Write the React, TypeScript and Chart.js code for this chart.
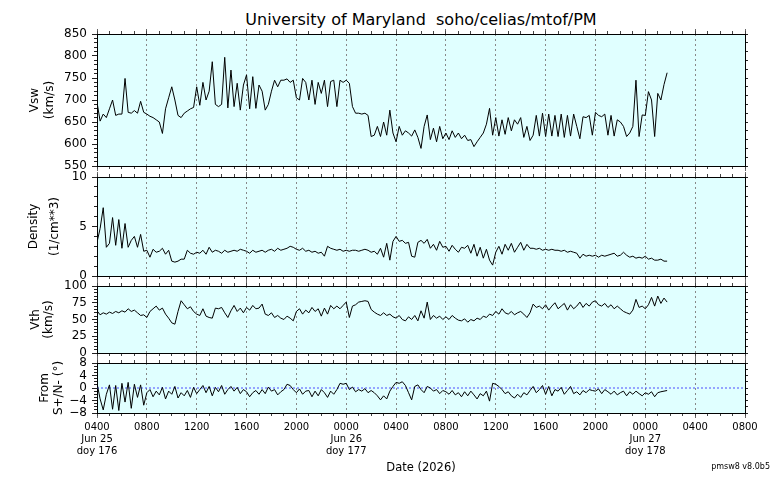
import { useEffect, useRef } from 'react';
import { Chart, registerables } from 'chart.js';

Chart.register(...registerables);

const FONT = '"DejaVu Sans", sans-serif';

// ---- time axis (hours after Jun 25 04:00) ----
const START_HOUR = 4;
const STEP_H = 0.25;
const X_MAX = 52;
const DATE_TICK_POS = [0, 20, 44];
const DATE_TICK_LINES = [
  ['Jun 25', 'doy 176'],
  ['Jun 26', 'doy 177'],
  ['Jun 27', 'doy 178'],
];

// ---- series (15 minute samples from Jun 25 04:00) ----
const VSW = [
  695, 652, 668, 660, 680, 700, 665, 668, 668, 749, 672, 670, 676, 670, 697, 672,
  668, 663, 660, 655, 650, 624, 680, 705, 730, 700, 665, 660, 670, 675, 680, 683,
  730, 688, 740, 700, 720, 787, 690, 685, 690, 797, 682, 768, 685, 738, 677, 734,
  757, 680, 753, 681, 734, 720, 677, 690, 720, 745, 730, 745, 745, 748, 740, 745,
  705, 700, 749, 740, 700, 745, 690, 740, 715, 745, 685, 742, 745, 685, 745, 740,
  745, 738, 685, 670, 670, 668, 670, 665, 617, 620, 640, 617, 650, 620, 677, 625,
  605, 640, 620, 630, 625, 618, 632, 615, 590, 640, 666, 610, 636, 605, 640, 612,
  625, 610, 630, 615, 625, 612, 620, 608, 610, 594, 605, 615, 625, 645, 681, 620,
  660, 618, 655, 622, 660, 630, 655, 645, 660, 615, 640, 608, 620, 665, 618, 670,
  617, 668, 618, 665, 617, 668, 615, 665, 618, 668, 640, 612, 662, 660, 665, 620,
  672, 665, 662, 668, 620, 665, 618, 655, 650, 640, 617, 625, 640, 745, 617, 666,
  665, 719, 700, 617, 715, 700, 735, 762,
];

const DENSITY = [
  3.4, 4.8, 6.9, 2.9, 3.3, 5.9, 3.1, 5.7, 2.8, 5.3, 2.9, 3.6, 4.0, 2.9, 4.2, 2.5,
  2.6, 1.9, 2.7, 2.4, 2.5, 2.8, 2.2, 2.6, 1.5, 1.4, 1.5, 1.7, 1.7, 2.6, 2.3, 2.2,
  2.4, 2.3, 2.6, 2.2, 2.9, 2.4, 2.6, 2.5, 2.3, 2.6, 2.4, 2.5, 2.6, 2.5, 2.7, 2.6,
  2.5, 2.3, 2.6, 2.4, 2.5, 2.6, 2.4, 2.6, 2.7, 2.5, 2.8, 2.6, 2.7, 2.8, 3.0, 2.9,
  2.7, 2.6, 2.8, 2.5, 2.6, 2.4, 2.5, 2.3, 2.4, 2.0, 3.0, 2.8, 2.7, 2.6, 2.7, 2.5,
  2.6, 2.5, 2.6, 2.6, 2.5, 2.6, 2.7, 2.6, 2.4, 2.5, 2.2, 2.8, 1.9, 3.3, 1.6, 3.5,
  4.0, 3.5, 3.6, 3.3, 3.4, 2.0, 1.9, 3.4, 3.6, 3.3, 3.7, 2.8, 3.2, 2.6, 3.5, 2.9,
  3.0, 2.5, 3.1, 2.7, 2.4, 2.9, 2.8, 3.1, 2.3, 3.2, 2.0, 2.9, 1.8, 2.7, 1.6, 1.1,
  2.4, 3.0, 2.2, 3.2, 2.6, 3.3, 2.4, 2.9, 3.4, 2.6, 3.2, 2.8, 2.8, 2.7, 2.8, 2.6,
  2.7, 2.6, 2.7, 2.6, 2.6, 2.5, 2.6, 2.4, 2.5, 2.4, 2.3, 1.8, 2.2, 2.0, 2.1, 2.0,
  2.1, 1.9, 2.1, 2.0, 2.1, 2.2, 2.3, 2.0, 2.1, 2.4, 2.1, 1.9, 2.0, 1.8, 1.9, 1.8,
  2.0, 1.7, 1.8, 1.6, 1.6, 1.7, 1.5, 1.5,
];

const VTH = [
  63, 57, 60, 58, 61, 59, 62, 60, 63, 61, 66, 62, 64, 60, 56, 57,
  53, 62, 66, 70, 64, 67, 58, 52, 45, 43, 62, 78, 72, 66, 69, 62,
  58, 56, 66, 55, 53, 52, 67, 66, 68, 60, 53, 63, 71, 62, 67, 60,
  68, 64, 71, 66, 67, 73, 58, 56, 60, 53, 56, 52, 50, 55, 52, 48,
  62, 66, 58, 64, 60, 68, 62, 66, 55, 67, 58, 71, 66, 70, 66, 71,
  76, 53, 70, 72, 76, 77, 78, 77, 65, 61, 58, 56, 60, 56, 58, 54,
  52, 56, 50, 48, 54, 50, 56, 48, 63, 52, 76, 50, 56, 52, 55, 50,
  54, 50, 56, 52, 49, 48, 51, 46, 50, 48, 52, 50, 55, 53, 58, 56,
  62, 58, 66, 60, 58, 62, 57, 60, 62, 58, 53, 60, 73, 68, 70, 66,
  72, 64, 70, 75, 66, 70, 74, 64, 72, 66, 70, 76, 68, 74, 70, 76,
  78, 72, 70, 74, 68, 72, 66, 70, 66, 62, 60, 58, 64, 80, 68, 70,
  66, 72, 83, 70, 85, 74, 82, 76,
];

const FROM_SN = [
  1.5, -3.5, -7.0, -2.0, 1.0, -6.8, 0.8, -7.2, 1.5, -4.5, 1.8, -6.5, 1.2, -3.0, 1.0, -5.5,
  -1.5, -0.5, -2.8, -1.0, -2.2, 0.2, -3.5, -1.0, -2.0, 0.5, -3.2, -1.5, -2.5, -0.8, -3.0, 0.2,
  -1.8, -0.5, 0.8, -1.5, 0.5, -2.5, 0.2, -1.2, 0.8, -2.0, -0.5, 0.5, -1.0, 0.2, -1.8, -0.5,
  -1.2, -2.8, -1.5, -0.8, -2.0, -0.5, -1.8, 0.3, -1.0, -0.5, -2.2, -1.2, -0.5, 1.2, 0.8, -0.5,
  -1.5, -0.3, -2.0, -1.0, -0.8, -2.8, -1.0, -2.5, -0.5, -1.5, -3.0, -1.0, -2.0, -0.5, 1.5, 1.2,
  1.5, -0.5, 0.3, -1.2, -0.5, -1.0, -0.2, -1.5, -0.8, -1.5, -2.5, -3.8, -2.5, -3.5, -1.0, 0.5,
  1.8, 1.5, 2.0, 0.8, -1.5, -3.8, 0.5, 1.0, -0.5, -1.5, 0.5, 0.0, -1.0, -0.5, -1.8, -0.8,
  -1.2, -2.0, -0.8, -2.2, -1.5, -2.8, -1.2, -2.5, -1.0, -2.2, -3.5, -1.8, -2.5, -1.0, -4.2, 1.5,
  1.2, 0.5, -0.5, -1.8, -1.2, -2.5, -3.2, -2.0, -3.0, -1.5, -2.2, -0.8, 0.5, -1.5, -0.5, 0.8,
  -2.0, 0.5, -2.5, -0.5, -1.0, 0.2, -2.0, -0.8, 0.5, -1.8, -1.2, -2.2, -0.8, -1.5, -0.5, -0.8,
  -1.0, -0.3, -1.8, -0.5, -1.2, -2.0, -1.0, -2.2, -1.5, -1.0, -2.5, -1.2, -2.0, -1.0, -1.8, -2.5,
  -1.5, -2.0, -1.2, -2.8, -1.5, -1.2, -1.0, -0.8,
];

const ZERO_LINE = [0, 0];

// ---- panel layout (page pixels) ----
type Panel = {
  key: string;
  top: number;
  bottom: number;
  data: number[];
  min: number;
  max: number;
  major: number;
  minor: number;
  rightStep: number;
  title: string[];
  titlePad: number;
  titleLH: number;
  last: boolean;
  zero: boolean;
};

const PANELS: Panel[] = [
  { key: 'vsw', top: 34, bottom: 166, data: VSW, min: 550, max: 850, major: 50, minor: 10, rightStep: 20,
    title: ['Vsw', '(km/s)'], titlePad: 27.5, titleLH: 1.25, last: false, zero: false },
  { key: 'den', top: 177, bottom: 276, data: DENSITY, min: 0, max: 10, major: 5, minor: 1, rightStep: 1,
    title: ['Density', '(1/cm**3)'], titlePad: 23.5, titleLH: 1.75, last: false, zero: false },
  { key: 'vth', top: 286, bottom: 353, data: VTH, min: 0, max: 100, major: 25, minor: 5, rightStep: 10,
    title: ['Vth', '(km/s)'], titlePad: 28.5, titleLH: 1.15, last: false, zero: false },
  { key: 'ang', top: 363, bottom: 413, data: FROM_SN, min: -8, max: 8, major: 4, minor: 1, rightStep: 2,
    title: ['From', 'S+/N- (°)'], titlePad: 37.5, titleLH: 1.2, last: true, zero: true },
];

const PAD_TOP = 6;
const CANVAS_W = 776;
const PLOT_LEFT = 97;
const PLOT_RIGHT = 745;
const PAGE_H = 480;

const canvasTop = (p: Panel) => p.top - PAD_TOP;
const canvasH = (p: Panel) => (p.last ? PAGE_H - canvasTop(p) : p.bottom - p.top + 2 * PAD_TOP);
const bottomH = (p: Panel) => (p.last ? PAGE_H - p.bottom : PAD_TOP);

const xLabel = (v: any) => {
  const val = Number(v);
  const hh = (START_HOUR + val) % 24;
  const s = String(hh).padStart(2, '0') + '00';
  const idx = DATE_TICK_POS.indexOf(val);
  return idx >= 0 ? [s, ...DATE_TICK_LINES[idx]] : s;
};

const yLabel = (v: any) => {
  const n = Number(v);
  return n < 0 ? '\u2212' + Math.abs(n) : String(n);
};

const bgPlugin = {
  id: 'plotBg',
  beforeDraw(chart: any) {
    const { ctx, chartArea } = chart;
    if (!chartArea) return;
    ctx.save();
    ctx.fillStyle = '#e0ffff';
    ctx.fillRect(chartArea.left, chartArea.top, chartArea.right - chartArea.left, chartArea.bottom - chartArea.top);
    ctx.restore();
  },
};

const zeroPad = (s: any) => {
  s.paddingTop = 0;
  s.paddingBottom = 0;
  s.paddingLeft = 0;
  s.paddingRight = 0;
};

function makeChart(canvas: HTMLCanvasElement, p: Panel) {
  const datasets: any[] = [
    {
      data: p.data.map((v, i) => ({ x: i * STEP_H, y: v })),
      borderColor: '#000',
      borderWidth: 1,
      pointRadius: 0,
      tension: 0,
      xAxisID: 'x',
      yAxisID: 'y',
      order: 1,
    },
  ];
  if (p.zero) {
    datasets.push({
      data: ZERO_LINE.map((v, i) => ({ x: i * X_MAX, y: v })),
      borderColor: '#4d4dff',
      borderWidth: 1,
      borderDash: [2, 2],
      pointRadius: 0,
      xAxisID: 'x',
      yAxisID: 'y',
      order: 2,
    });
  }

  const hAxis = (position: string, weight: number, step: number, tl: number, h: number, extra: any = {}) => ({
    type: 'linear',
    position,
    min: 0,
    max: X_MAX,
    weight,
    afterFit: (s: any) => { s.height = h; zeroPad(s); },
    ticks: { stepSize: step, autoSkip: false, display: false, maxRotation: 0 },
    grid: { display: true, drawOnChartArea: false, drawTicks: true, tickLength: tl, tickColor: '#444', tickWidth: 1, color: 'rgba(0,0,0,0)' },
    border: { display: false },
    ...extra,
  });

  const vAxis = (position: string, weight: number, step: number, tl: number, w: number, extra: any = {}) => ({
    type: 'linear',
    position,
    min: p.min,
    max: p.max,
    weight,
    afterFit: (s: any) => { s.width = w; zeroPad(s); },
    ticks: { stepSize: step, autoSkip: false, display: false },
    grid: { display: true, drawOnChartArea: false, drawTicks: true, tickLength: tl, tickColor: '#222', tickWidth: 1, color: 'rgba(0,0,0,0)' },
    border: { display: false },
    ...extra,
  });

  const scales: any = {
    x: hAxis('bottom', 1, 4, 5, bottomH(p), {
      ticks: {
        stepSize: 4,
        autoSkip: false,
        maxRotation: 0,
        display: p.last,
        padding: 3,
        color: '#000',
        font: { family: FONT, size: 10, lineHeight: 1.2 },
        callback: xLabel,
      },
      grid: {
        display: true,
        drawOnChartArea: true,
        drawTicks: true,
        tickLength: 5,
        tickColor: '#666',
        tickWidth: 1,
        tickBorderDash: [],
        lineWidth: 1,
        color: (c: any) => (c.tick && (c.tick.value === 0 || c.tick.value === X_MAX) ? 'rgba(0,0,0,0)' : '#888'),
      },
      border: { display: false, dash: [2, 3] },
      title: p.last
        ? { display: true, text: 'Date (2026)', color: '#000', font: { family: FONT, size: 11.5, lineHeight: 1.2 }, padding: { top: 0, bottom: 4.6 } }
        : { display: false },
    }),
    xm: hAxis('bottom', 0, 1, 3, 0, { border: { display: true, color: '#000', width: 1 } }),
    xt: hAxis('top', 1, 4, 5, PAD_TOP, {
      grid: { display: true, drawOnChartArea: false, drawTicks: true, tickLength: 5, tickColor: '#666', tickWidth: 1, color: 'rgba(0,0,0,0)' },
    }),
    xtm: hAxis('top', 0, 1, 3, 0, { border: { display: true, color: '#000', width: 1 } }),
    y: vAxis('left', 1, p.major, 5, PLOT_LEFT, {
      ticks: { stepSize: p.major, autoSkip: false, display: true, padding: 5, color: '#000', font: { family: FONT, size: 12 }, callback: yLabel },
      title: { display: true, text: p.title, color: '#000', font: { family: FONT, size: 12, lineHeight: p.titleLH }, padding: { top: p.titlePad, bottom: 0 } },
    }),
    ym: vAxis('left', 0, p.minor, 3, 0, { border: { display: true, color: '#000', width: 1 } }),
    yr: vAxis('right', 0, p.rightStep, 3, CANVAS_W - PLOT_RIGHT, { border: { display: true, color: '#000', width: 1 } }),
  };

  return new Chart(canvas, {
    type: 'line',
    data: { datasets },
    options: {
      animation: false,
      responsive: false,
      devicePixelRatio: 1,
      events: [],
      layout: { padding: 0, autoPadding: false },
      plugins: { legend: { display: false }, tooltip: { enabled: false }, title: { display: false } },
      scales,
    } as any,
    plugins: [bgPlugin],
  });
}

export default function App() {
  const r0 = useRef<HTMLCanvasElement>(null);
  const r1 = useRef<HTMLCanvasElement>(null);
  const r2 = useRef<HTMLCanvasElement>(null);
  const r3 = useRef<HTMLCanvasElement>(null);
  const refs = [r0, r1, r2, r3];

  useEffect(() => {
    const charts = PANELS.map((p, i) => makeChart(refs[i].current as HTMLCanvasElement, p));
    return () => charts.forEach((c) => c.destroy());
  }, []);

  return (
    <div style={{ position: 'fixed', left: 0, top: 0, width: CANVAS_W, height: PAGE_H, background: '#fff', overflow: 'hidden', fontFamily: FONT, color: '#000' }}>
      <div style={{ position: 'absolute', left: 0, top: 11.5, width: (PLOT_LEFT + PLOT_RIGHT), textAlign: 'center', fontSize: 16, lineHeight: '16px', whiteSpace: 'pre' }}>
        University of Maryland  soho/celias/mtof/PM
      </div>
      {PANELS.map((p, i) => (
        <canvas
          key={p.key}
          ref={refs[i]}
          width={CANVAS_W}
          height={canvasH(p)}
          style={{ position: 'absolute', left: 0, top: canvasTop(p), width: CANVAS_W, height: canvasH(p), display: 'block' }}
        />
      ))}
      <div style={{ position: 'absolute', right: 6, top: 462.7, fontSize: 8, lineHeight: '8px', whiteSpace: 'pre' }}>pmsw8 v8.0b5</div>
    </div>
  );
}
